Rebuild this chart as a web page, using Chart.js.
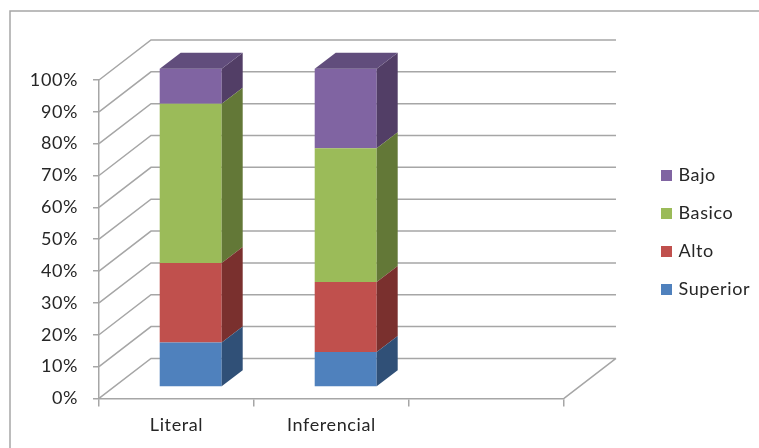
<!DOCTYPE html>
<html>
<head>
<meta charset="utf-8">
<script src="https://cdn.jsdelivr.net/npm/chart.js@4"></script>
<style>
  html, body { margin: 0; background: #fff; }
  canvas { display: block; }
</style>
</head>
<body>
<canvas id="myChart" width="759" height="448"></canvas>
<script>
const niveles = ['Literal', 'Inferencial', '']
const superior = [14, 11, null]
const alto = [25, 22, null]
const basico = [50, 42, null]
const bajo = [11, 25, null]
const ticksY = [0, 10, 20, 30, 40, 50, 60, 70, 80, 90, 100]

const colorFrente = ['#4F81BD', '#C0504D', '#9BBB59', '#8064A2']
const colorLado = ['#305077', '#7A302E', '#637837', '#523E66']
const colorTope = '#614D7C'
const gris = '#A6A6A6'
const colorTexto = '#262626'

const FUENTE = { family: 'Lato', size: 18 }

// fondo de la caja 3D: pared y piso
const PARED_X = 52, PARED_Y = 40
// las barras van a media profundidad
const BARRA_DX = 14.2, BARRA_DY = 11.3
const LADO_X = 21, LADO_Y = 16

const marco = {
  id: 'marco',
  beforeDraw(chart) {
    const c = chart.ctx
    c.letterSpacing = '0.6px'
    c.save()
    c.strokeStyle = gris
    c.lineWidth = 1.5
    c.strokeRect(10, 11, 800, 500)
    c.restore()
  }
}

const caja3d = {
  id: 'caja3d',
  beforeLayout(chart) {
    const leg = chart.legend, fit = leg.fit
    leg.fit = function () {
      fit.call(this)
      this.width = 195
    }
  },
  afterLayout(chart) {
    // la leyenda queda aparte, a la derecha de la pared
    const leg = chart.legend
    leg.left = 643.5
    leg.right = 759
    leg.top = 146.5
    leg.bottom = 448
  },
  beforeDatasetsDraw(chart) {
    const c = chart.ctx, y = chart.scales.y, a = chart.chartArea
    c.save()
    c.strokeStyle = gris
    c.lineWidth = 1.5
    c.beginPath()
    ticksY.forEach(t => {
      const py = y.getPixelForValue(t)
      c.moveTo(a.left, py)
      c.lineTo(a.left + PARED_X, py - PARED_Y)
      c.lineTo(a.right + PARED_X, py - PARED_Y)
    })
    c.moveTo(a.right, a.bottom)
    c.lineTo(a.right + PARED_X, a.bottom - PARED_Y)
    c.stroke()
    c.restore()
  },
  beforeDatasetDraw(chart) {
    chart.ctx.save()
    chart.ctx.translate(BARRA_DX, -BARRA_DY)
  },
  afterDatasetDraw(chart, args) {
    const c = chart.ctx
    c.restore()
    const i = args.index
    args.meta.data.forEach(b => {
      if (b.skip || b.y == null || isNaN(b.y) || b.y === b.base) return
      const r = b.x + b.width / 2 + BARRA_DX
      const l = b.x - b.width / 2 + BARRA_DX
      const t = b.y - BARRA_DY
      const f = b.base - BARRA_DY
      c.fillStyle = colorLado[i]
      c.beginPath()
      c.moveTo(r, t)
      c.lineTo(r + LADO_X, t - LADO_Y)
      c.lineTo(r + LADO_X, f - LADO_Y)
      c.lineTo(r, f)
      c.closePath()
      c.fill()
      if (i === chart.data.datasets.length - 1) {
        c.fillStyle = colorTope
        c.beginPath()
        c.moveTo(l, t)
        c.lineTo(l + LADO_X, t - LADO_Y)
        c.lineTo(r + LADO_X, t - LADO_Y)
        c.lineTo(r, t)
        c.closePath()
        c.fill()
      }
    })
  }
}

const ctx = document.getElementById('myChart')

new Chart(ctx, {
  type: 'bar',
  data: {
    labels: niveles,
    datasets: [
      { label: 'Superior', data: superior, backgroundColor: colorFrente[0] },
      { label: 'Alto', data: alto, backgroundColor: colorFrente[1] },
      { label: 'Basico', data: basico, backgroundColor: colorFrente[2] },
      { label: 'Bajo', data: bajo, backgroundColor: colorFrente[3] }
    ]
  },
  plugins: [marco, caja3d],
  options: {
    responsive: false,
    animation: false,
    events: [],
    clip: false,
    barPercentage: 1,
    categoryPercentage: 0.4,
    layout: { padding: { top: 80, bottom: 4, left: 0, right: 0 } },
    plugins: {
      tooltip: { enabled: false },
      legend: {
        position: 'right',
        align: 'start',
        reverse: true,
        labels: {
          boxWidth: 6,
          boxHeight: 6,
          padding: 20,
          color: colorTexto,
          font: FUENTE,
          // cuadro con borde grueso para acercar el texto
          generateLabels(chart) {
            return Chart.defaults.plugins.legend.labels.generateLabels(chart).map(it => {
              it.lineWidth = 5
              it.strokeStyle = it.fillStyle
              return it
            })
          }
        }
      }
    },
    scales: {
      x: {
        stacked: true,
        grid: { drawOnChartArea: false, color: gris, lineWidth: 1.5, tickLength: 8 },
        border: { color: gris, width: 1.5 },
        ticks: { color: colorTexto, font: FUENTE, padding: 8, maxRotation: 0 }
      },
      y: {
        stacked: true,
        min: 0,
        max: 100,
        afterFit(s) { s.width = 99 },
        afterBuildTicks(s) { s.ticks = ticksY.map(v => ({ value: v })) },
        grid: { drawOnChartArea: false, color: gris, lineWidth: 1.5, tickLength: 6 },
        border: { color: gris, width: 1.5 },
        ticks: { color: colorTexto, font: FUENTE, padding: 15, callback: v => v + '%' }
      }
    }
  }
})
</script>
</body>
</html>
